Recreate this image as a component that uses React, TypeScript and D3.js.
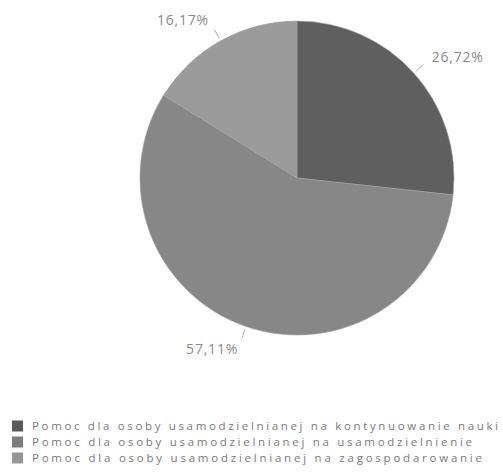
import React, { useEffect, useRef } from "react";
import * as d3 from "d3";

const categories = [
  "Pomoc dla osoby usamodzielnianej na kontynuowanie nauki",
  "Pomoc dla osoby usamodzielnianej na usamodzielnienie",
  "Pomoc dla osoby usamodzielnianej na zagospodarowanie",
];
const values = [26.72, 57.11, 16.17];
const valueLabels = ["26,72%", "57,11%", "16,17%"];
const sliceColors = ["#5f5f5f", "#878787", "#9b9b9b"];
const legendColors = ["#5a5a5a", "#7d7d7d", "#969696"];
const legendWidths = [466, 440, 450];

export default function App() {
  const ref = useRef<SVGSVGElement>(null);
  useEffect(() => {
    const svg = d3.select(ref.current);
    svg.selectAll("*").remove();
    const cx = 297, cy = 178, r = 157;
    const pie = d3.pie<number>().sort(null).value((d) => d);
    const arcs = pie(values);
    const arc = d3.arc<d3.PieArcDatum<number>>().innerRadius(0).outerRadius(r);
    const g = svg.append("g").attr("transform", `translate(${cx},${cy})`);
    g.selectAll("path.slice")
      .data(arcs)
      .join("path")
      .attr("class", "slice")
      .attr("d", arc as any)
      .attr("fill", (_, i) => sliceColors[i])
      .attr("stroke", "#a0a0a0")
      .attr("stroke-width", 0.6);

    arcs.forEach((a, i) => {
      const m = (a.startAngle + a.endAngle) / 2;
      const p = (rr: number) => [Math.sin(m) * rr, -Math.cos(m) * rr];
      const [x1, y1] = p(r + 3);
      const [x2, y2] = p(r + 13);
      g.append("line")
        .attr("x1", x1).attr("y1", y1).attr("x2", x2).attr("y2", y2)
        .attr("stroke", "#aaaaaa").attr("stroke-width", 1);
      const [tx, ty] = p(r + 24);
      g.append("text")
        .attr("x", tx)
        .attr("y", ty)
        .attr("dy", "0.35em")
        .attr("text-anchor", Math.sin(m) >= 0 ? "start" : "end")
        .attr("font-family", "Open Sans")
        .attr("font-size", 14)
        .attr("letter-spacing", 0.8)
        .attr("fill", "#8a8a8a")
        .text(valueLabels[i]);
    });

    const lg = svg.append("g");
    categories.forEach((c, i) => {
      const y = 426 + i * 16;
      lg.append("rect")
        .attr("x", 12).attr("y", y - 5.5).attr("width", 11).attr("height", 11)
        .attr("fill", legendColors[i]);
      lg.append("text")
        .attr("x", 32)
        .attr("y", y)
        .attr("dy", "0.35em")
        .attr("font-family", "Open Sans")
        .attr("font-size", 11.5)
        .attr("fill", "#7a7a7a")
        .attr("textLength", legendWidths[i])
        .attr("lengthAdjust", "spacing")
        .text(c);
    });
  }, []);
  return (
    <svg
      ref={ref}
      width={503}
      height={476}
      style={{ position: "absolute", left: 0, top: 0, background: "#fff" }}
    />
  );
}
